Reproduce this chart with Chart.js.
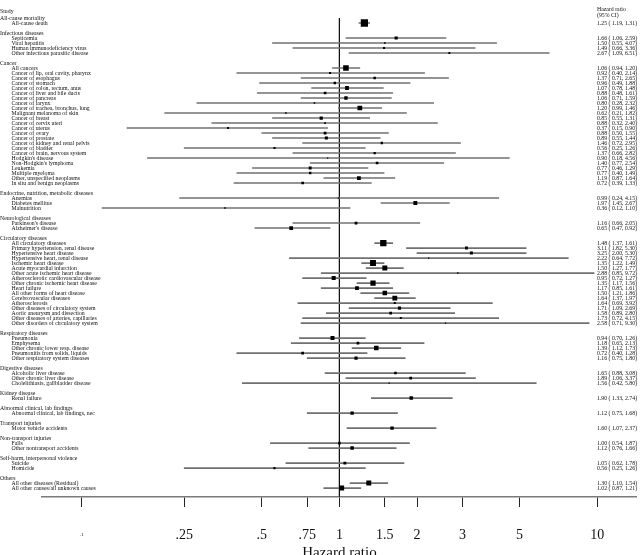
<!DOCTYPE html>
<html>
<head>
<meta charset="utf-8">
<script src="https://cdn.jsdelivr.net/npm/chart.js@4.4.1/dist/chart.umd.min.js"></script>
<style>
  html, body { margin: 0; padding: 0; background: #fff; overflow: hidden; }
  canvas { display: block; }
</style>
</head>
<body>
<canvas id="chart" width="642" height="555"></canvas>
<script>
const groups = [
  'All-cause mortality', 'Infectious diseases', 'Cancer',
  'Endocrine, nutrition, metabolic diseases', 'Neurological diseases',
  'Circulatory diseases', 'Respiratory diseases', 'Digestive diseases',
  'Kidney disease', 'Abnormal clinical, lab findings', 'Transport injuries',
  'Non-transport injuries', 'Self-harm, interpersonal violence', 'Others'
];
const groupSizes = [1, 4, 24, 3, 2, 17, 5, 3, 1, 1, 1, 2, 2, 2];

const causes = [
  'All-cause death',
  'Septicemia', 'Viral hepatitis', 'Human immunodeficiency virus', 'Other infectious parasitic disease',
  'All cancers', 'Cancer of lip, oral cavity, pharynx', 'Cancer of esophagus', 'Cancer of stomach',
  'Cancer of colon, rectum, anus', 'Cancer of liver and bile ducts', 'Cancer of pancreas',
  'Cancer of larynx', 'Cancer of trachea, bronchus, lung', 'Malignant melanoma of skin',
  'Cancer of breast', 'Cancer of cervix uteri', 'Cancer of uterus', 'Cancer of ovary',
  'Cancer of prostate', 'Cancer of kidney and renal pelvis', 'Cancer of bladder',
  'Cancer of brain, nervous system', "Hodgkin's disease", "Non-Hodgkin's lymphoma", 'Leukemia',
  'Multiple myeloma', 'Other, unspecified neoplasms', 'In situ and benign neoplasms',
  'Anemias', 'Diabetes mellitus', 'Malnutrition',
  "Parkinson's disease", "Alzheimer's disease",
  'All circulatory diseases', 'Primary hypertension, renal disease', 'Hypertensive heart disease',
  'Hypertensive heart, renal disease', 'Ischemic heart disease', 'Acute myocardial infarction',
  'Other acute ischemic heart disease', 'Atherosclerotic cardiovascular disease',
  'Other chronic ischemic heart disease', 'Heart failure', 'All other forms of heart disease',
  'Cerebrovascular diseases', 'Atherosclerosis', 'Other diseases of circulatory system',
  'Aortic aneurysm and dissection', 'Other diseases of arteries, capillaries',
  'Other disorders of circulatory system',
  'Pneumonia', 'Emphysema', 'Other chronic lower resp. disease', 'Pneumonitis from solids, liquids',
  'Other respiratory system diseases',
  'Alcoholic liver disease', 'Other chronic liver disease', 'Cholelithiasis, gallbladder disease',
  'Renal failure',
  'Abnormal clinical, lab findings, nec',
  'Motor vehicle accidents',
  'Falls', 'Other nontransport accidents',
  'Suicide', 'Homicide',
  'All other diseases (Residual)', 'All other causes/all unknown causes'
];

const hr = [
  1.25,
  1.66, 1.50, 1.49, 2.67,
  1.06, 0.92, 1.37, 0.96, 1.07, 0.88, 1.06, 0.80, 1.20, 0.62, 0.85, 0.88, 0.37, 0.88,
  0.89, 1.46, 0.56, 1.37, 0.90, 1.40, 0.77, 0.77, 1.19, 0.72,
  0.99, 1.97, 0.36,
  1.16, 0.65,
  1.48, 3.11, 3.25, 2.22, 1.35, 1.50, 2.88, 0.95, 1.35, 1.17, 1.50, 1.64, 1.64, 1.71,
  1.58, 1.73, 2.58,
  0.94, 1.18, 1.39, 0.72, 1.16,
  1.65, 1.89, 1.56,
  1.90,
  1.12,
  1.60,
  1.00, 1.12,
  1.05, 0.56,
  1.30, 1.02
];
const lower = [
  1.19,
  1.06, 0.55, 0.66, 1.09,
  0.94, 0.40, 0.71, 0.49, 0.78, 0.48, 0.71, 0.28, 0.99, 0.21, 0.55, 0.32, 0.15, 0.50,
  0.55, 0.72, 0.25, 0.66, 0.18, 0.77, 0.46, 0.40, 0.87, 0.39,
  0.24, 1.45, 0.12,
  0.66, 0.47,
  1.37, 1.82, 2.00, 0.64, 1.22, 1.27, 0.85, 0.72, 1.17, 0.85, 1.21, 1.37, 0.69, 1.09,
  0.89, 0.72, 0.71,
  0.70, 0.65, 1.12, 0.40, 0.75,
  0.88, 1.06, 0.42,
  1.33,
  0.75,
  1.07,
  0.54, 0.76,
  0.62, 0.25,
  1.10, 0.87
];
const upper = [
  1.31,
  2.59, 4.07, 3.36, 6.51,
  1.20, 2.14, 2.65, 1.88, 1.48, 1.61, 1.59, 2.32, 1.46, 1.82, 1.31, 2.40, 0.90, 1.55,
  1.44, 2.95, 1.26, 2.82, 4.56, 2.54, 1.29, 1.49, 1.64, 1.33,
  4.15, 2.67, 1.10,
  2.05, 0.92,
  1.61, 5.30, 5.30, 7.72, 1.49, 1.77, 9.72, 1.27, 1.56, 1.61, 1.86, 1.97, 3.92, 2.69,
  2.80, 4.15, 9.30,
  1.26, 2.13, 1.73, 1.28, 1.80,
  3.08, 3.37, 5.80,
  2.74,
  1.68,
  2.37,
  1.87, 1.66,
  1.78, 1.26,
  1.54, 1.21
];

const tickValues = [0.1, 0.25, 0.5, 0.75, 1, 1.5, 2, 3, 5, 10];
const tickLabels = ['.1', '.25', '.5', '.75', '1', '1.5', '2', '3', '5', '10'];

// rows: group header, its causes, then one blank row
const groupRows = [];
const causeRows = [];
let row = 1;
groupSizes.forEach((n) => {
  groupRows.push(row);
  for (let i = 1; i <= n; i++) causeRows.push(row + i);
  row += n + 2;
});
const lastRow = row - 2;

// box side shrinks with the width of the interval (precision weighting)
const boxSide = (lo, hi) => {
  const hw = (Math.log10(hi) - Math.log10(lo)) / 2;
  return Math.min(8, Math.max(1.3, 0.2 - 4.2 * Math.log10(hw)));
};

const serif = '"Liberation Serif", "Times New Roman", serif';
const fmt = (v) => v.toFixed(2);

const rowText = {
  id: 'rowText',
  afterDatasetsDraw(chart) {
    const { ctx } = chart;
    const y = chart.scales.y;
    ctx.save();
    ctx.font = '5.8px ' + serif;
    ctx.fillStyle = '#111';
    ctx.textBaseline = 'middle';
    ctx.textAlign = 'left';
    ctx.fillText('Study', 0, y.getPixelForValue(0) - 2);
    ctx.fillText('Hazard ratio', 597, y.getPixelForValue(0) - 4);
    ctx.fillText('(95% CI)', 597, y.getPixelForValue(0) + 2);
    groups.forEach((g, i) => ctx.fillText(g, 0, y.getPixelForValue(groupRows[i])));
    causes.forEach((c, i) => {
      const py = y.getPixelForValue(causeRows[i]);
      ctx.fillText(c, 11.5, py);
      ctx.fillText(fmt(hr[i]) + ' ( ' + fmt(lower[i]) + ', ' + fmt(upper[i]) + ')', 597, py);
    });
    ctx.restore();
  }
};

new Chart(document.getElementById('chart'), {
  type: 'scatter',
  data: {
    datasets: [
      {
        type: 'line',
        data: [{ x: 1, y: 1 }, { x: 1, y: lastRow + 1.7 }],
        borderColor: '#111',
        borderWidth: 1,
        pointRadius: 0,
        order: 3
      },
      {
        type: 'bar',
        indexAxis: 'y',
        data: causeRows.map((r, i) => ({ y: r, x: [lower[i], upper[i]] })),
        backgroundColor: '#707070',
        barThickness: 1,
        order: 2
      },
      {
        type: 'scatter',
        data: causeRows.map((r, i) => ({ x: hr[i], y: r })),
        pointStyle: 'rect',
        pointRadius: causeRows.map((r, i) => boxSide(lower[i], upper[i]) / Math.SQRT2),
        backgroundColor: '#000',
        borderWidth: 0,
        order: 1
      }
    ]
  },
  options: {
    responsive: false,
    animation: false,
    devicePixelRatio: 1,
    events: [],
    layout: { padding: { left: 42, right: 0, top: 0, bottom: 0 } },
    plugins: { legend: { display: false }, tooltip: { enabled: false } },
    scales: {
      x: {
        type: 'logarithmic',
        position: 'bottom',
        min: 0.0702,
        max: 14.25,
        offset: false,
        afterBuildTicks: (scale) => { scale.ticks = tickValues.map((v) => ({ value: v })); },
        grid: { display: true, offset: false, drawOnChartArea: false, drawTicks: true, tickLength: 10, color: '#222', tickColor: '#222', tickWidth: 1 },
        border: { display: true, color: '#7a7a7a', width: 1.5 },
        ticks: {
          autoSkip: false,
          maxRotation: 0,
          padding: 8.8,
          color: '#111',
          callback: (v, i) => ['', tickLabels[i]],
          font: (c) => c.index === 0
            ? { family: serif, size: 5, lineHeight: 2.56 }
            : { family: serif, size: 14, lineHeight: 0.914 }
        },
        title: {
          display: true,
          text: 'Hazard ratio',
          color: '#111',
          font: { family: serif, size: 15, lineHeight: 0.32 },
          padding: { top: 0, bottom: 0 }
        }
      },
      y: {
        type: 'linear',
        display: false,
        reverse: true,
        offset: false,
        grid: { offset: false },
        min: -1.573,
        max: 96.78
      }
    }
  },
  plugins: [rowText]
});
</script>
</body>
</html>
